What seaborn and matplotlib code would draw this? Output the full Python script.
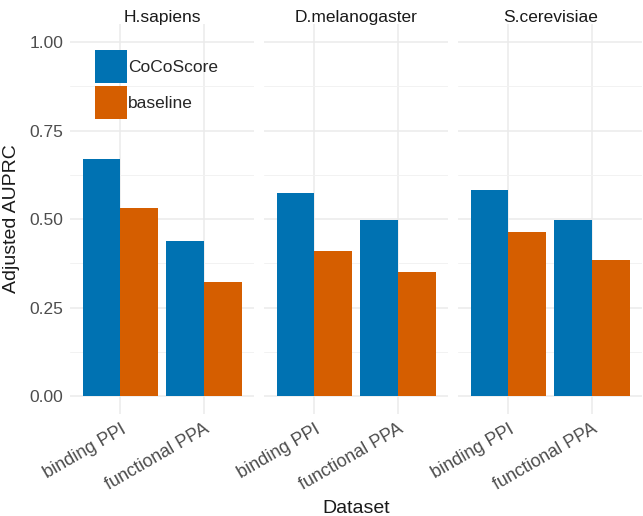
import numpy as np
import pandas as pd
import matplotlib
matplotlib.use("Agg")
import matplotlib.pyplot as plt
import seaborn as sns
from matplotlib.ticker import MultipleLocator

# values
organisms = ["H.sapiens", "D.melanogaster", "S.cerevisiae"]
datasets = ["binding PPI", "functional PPA"]
methods = ["CoCoScore", "baseline"]
cocoscore = [0.669, 0.438, 0.573, 0.498, 0.583, 0.498]
baseline = [0.531, 0.321, 0.410, 0.351, 0.464, 0.385]
colors = ["#0072B2", "#D55E00"]

rows = []
i = 0
for org in organisms:
    for ds in datasets:
        rows.append({"organism": org, "dataset": ds, "method": "CoCoScore", "auprc": cocoscore[i]})
        rows.append({"organism": org, "dataset": ds, "method": "baseline", "auprc": baseline[i]})
        i += 1
df = pd.DataFrame(rows)

sns.set_style("white")
plt.rcParams["font.family"] = ["Liberation Sans", "DejaVu Sans"]

fig, axes = plt.subplots(1, 3, figsize=(6.43, 5.16), dpi=100, sharey=True)
fig.subplots_adjust(left=0.109, right=0.999, top=0.953, bottom=0.198, wspace=0.054)

for k, (ax, org) in enumerate(zip(axes, organisms)):
    sub = df[df["organism"] == org]
    sns.barplot(data=sub, x="dataset", y="auprc", hue="method", order=datasets,
                hue_order=methods, palette=colors, width=0.9, saturation=1,
                errorbar=None, ax=ax, legend=(k == 0), linewidth=0, zorder=3)
    ax.set_xlim(-0.6, 1.6)
    ax.set_ylim(-0.05, 1.05)
    ax.yaxis.set_major_locator(MultipleLocator(0.25))
    ax.yaxis.set_minor_locator(MultipleLocator(0.125))
    ax.grid(True, which="major", color="#ebebeb", linewidth=1.1, zorder=0)
    ax.grid(True, which="minor", axis="y", color="#f2f2f2", linewidth=0.7, zorder=0)
    ax.set_axisbelow(True)
    for s in ax.spines.values():
        s.set_visible(False)
    ax.tick_params(axis="both", which="both", length=0, labelcolor="#4d4d4d")
    ax.tick_params(axis="y", pad=5, labelsize=12.5)
    ax.tick_params(axis="x", pad=5, labelsize=13)
    ax.set_yticks([0, 0.25, 0.5, 0.75, 1.0])
    ax.set_yticklabels(["0.00", "0.25", "0.50", "0.75", "1.00"])
    for lab in ax.get_xticklabels():
        lab.set_rotation(30)
        lab.set_ha("right")
        lab.set_va("top")
        lab.set_rotation_mode("anchor")
    ax.set_title(org, fontsize=12.5, color="#1a1a1a", pad=1.5)
    ax.set_xlabel("")
    ax.set_ylabel("")

leg = axes[0].legend(loc="upper left", bbox_to_anchor=(0.1477, 0.903),
                     bbox_transform=fig.transFigure, frameon=False, title=None,
                     fontsize=12.5, handlelength=1.84, handleheight=2.55,
                     labelspacing=0.17, handletextpad=0.05, borderpad=0,
                     borderaxespad=0)

fig.text(0.5545, 0.006, "Dataset", ha="center", va="baseline", fontsize=14, color="#1a1a1a")
fig.text(0.004, 0.576, "Adjusted AUPRC", ha="left", va="center", rotation=90,
         fontsize=14, color="#1a1a1a")

plt.savefig("out.png", dpi=100)
